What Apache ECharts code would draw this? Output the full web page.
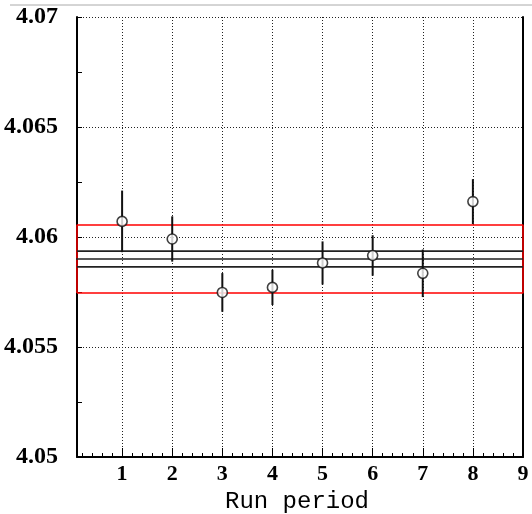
<!DOCTYPE html>
<html>
<head>
<meta charset="utf-8">
<script src="https://cdn.jsdelivr.net/npm/echarts@6/dist/echarts.min.js"></script>
<style>
  html, body { margin: 0; padding: 0; background: #fff; }
  #chart { width: 532px; height: 514px; }
</style>
</head>
<body>
<div id="chart"></div>
<script>
// Measurements per run period
const runPeriods = [1, 2, 3, 4, 5, 6, 7, 8];
const values = [4.06071, 4.05991, 4.05748, 4.05771, 4.05882, 4.05916, 4.05835, 4.06161];
const errors = [0.0014, 0.00103, 0.00088, 0.0008, 0.00098, 0.00092, 0.00108, 0.00102];

// Weighted mean with its error and the outer (red) band
const meanValue = 4.0590;
const meanError = 0.00036;
const bandHalfWidth = 0.00155;

// Axis ranges and ticks
const xRange = [0.1, 9];
const yRange = [4.05, 4.07];
const xTickLabels = [1, 2, 3, 4, 5, 6, 7, 8, 9];
const xMinorTicks = [];
for (let i = 1; i < 45; i++) {
  if (i % 5 !== 0) xMinorTicks.push(+(i * 0.2).toFixed(1));
}

const labelFont = { fontFamily: 'Liberation Serif', fontWeight: 'bold', color: '#000' };
const dotted = { color: '#222', width: 1, type: [1, 2] };

const chart = echarts.init(document.getElementById('chart'));
chart.setOption({
  animation: false,
  backgroundColor: '#fff',
  graphic: [{
    type: 'line',
    shape: { x1: 10, y1: 5, x2: 532, y2: 5 },
    style: { stroke: '#aaa', lineWidth: 1 },
    silent: true
  }],
  grid: { left: 77, right: 9, top: 17, bottom: 57, outerBoundsMode: 'none', containLabel: false },
  xAxis: [{
    type: 'value',
    position: 'bottom',
    min: xRange[0],
    max: xRange[1],
    name: 'Run period',
    nameLocation: 'middle',
    nameGap: 28,
    nameTextStyle: { fontFamily: 'Liberation Mono', fontSize: 24, color: '#000', padding: [0, 6, 0, 0] },
    axisLine: { show: true, lineStyle: { color: '#000', width: 2 } },
    axisTick: { show: true, inside: true, length: 9, customValues: xTickLabels, lineStyle: { color: '#000', width: 1 } },
    axisLabel: { show: true, customValues: xTickLabels, margin: 6, fontSize: 22, ...labelFont },
    splitLine: { show: true, lineStyle: dotted }
  }, {
    type: 'value',
    position: 'bottom',
    min: xRange[0],
    max: xRange[1],
    axisLine: { show: false },
    axisTick: { show: true, inside: true, length: 4, customValues: xMinorTicks, lineStyle: { color: '#000', width: 1 } },
    axisLabel: { show: false },
    splitLine: { show: false }
  }],
  yAxis: [{
    type: 'value',
    position: 'left',
    min: yRange[0],
    max: yRange[1],
    interval: 0.005,
    axisLine: { show: true, lineStyle: { color: '#000', width: 2 } },
    axisTick: { show: true, inside: true, length: 5, lineStyle: { color: '#000', width: 1 } },
    minorTick: { show: true, splitNumber: 2, length: 5, lineStyle: { color: '#000', width: 1 } },
    axisLabel: { margin: 19, fontSize: 24, ...labelFont },
    splitLine: { show: true, lineStyle: dotted }
  }, {
    type: 'value',
    position: 'right',
    min: yRange[0],
    max: yRange[1],
    interval: 0.005,
    axisLine: { show: true, lineStyle: { color: '#000', width: 2 } },
    axisTick: { show: false },
    axisLabel: { show: false },
    splitLine: { show: false }
  }],
  series: [
    {
      name: 'band',
      type: 'line',
      symbol: 'none',
      z: 3,
      lineStyle: { color: '#ff0000', width: 1.5 },
      data: [
        [xRange[0], meanValue - bandHalfWidth],
        [xRange[1], meanValue - bandHalfWidth],
        [xRange[1], meanValue + bandHalfWidth],
        [xRange[0], meanValue + bandHalfWidth],
        [xRange[0], meanValue - bandHalfWidth]
      ]
    },
    {
      name: 'mean',
      type: 'line',
      symbol: 'none',
      clip: false,
      z: 4,
      lineStyle: { color: '#222', width: 1.6 },
      data: [[0, meanValue], [xRange[1], meanValue]]
    },
    {
      name: 'mean+err',
      type: 'line',
      symbol: 'none',
      z: 4,
      lineStyle: { color: '#222', width: 1.6 },
      data: [[xRange[0], meanValue + meanError], [xRange[1], meanValue + meanError]]
    },
    {
      name: 'mean-err',
      type: 'line',
      symbol: 'none',
      z: 4,
      lineStyle: { color: '#222', width: 1.6 },
      data: [[xRange[0], meanValue - meanError], [xRange[1], meanValue - meanError]]
    },
    {
      name: 'errors',
      type: 'custom',
      z: 5,
      encode: { x: 0, y: [1, 2] },
      data: runPeriods.map((x, i) => [x, values[i] - errors[i], values[i] + errors[i]]),
      renderItem(params, api) {
        const p1 = api.coord([api.value(0), api.value(1)]);
        const p2 = api.coord([api.value(0), api.value(2)]);
        return {
          type: 'line',
          shape: { x1: p1[0], y1: p1[1], x2: p2[0], y2: p2[1] },
          style: { stroke: '#111', lineWidth: 2 }
        };
      }
    },
    {
      name: 'values',
      type: 'scatter',
      z: 6,
      symbol: 'circle',
      symbolSize: 10,
      itemStyle: { color: '#fff', borderColor: '#111', borderWidth: 1.6 },
      data: runPeriods.map((x, i) => [x, values[i]])
    }
  ]
});
</script>
</body>
</html>
